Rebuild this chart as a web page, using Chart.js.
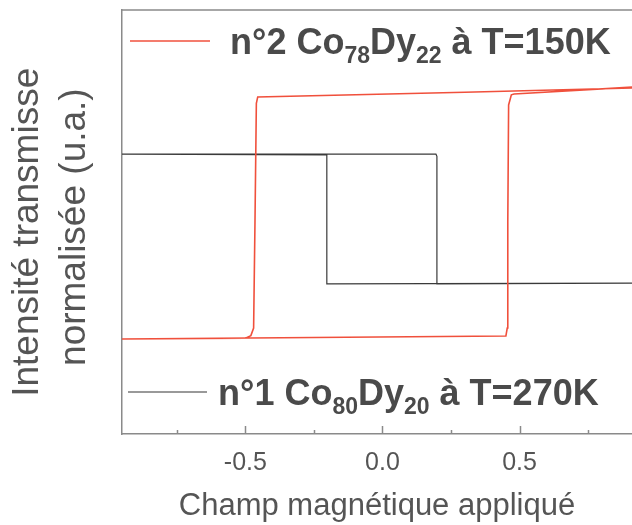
<!DOCTYPE html>
<html>
<head>
<meta charset="utf-8">
<script src="https://cdn.jsdelivr.net/npm/chart.js@4"></script>
<style>
  html, body { margin: 0; padding: 0; background: #fff; }
  #wrap { width: 632px; height: 525px; }
</style>
</head>
<body>
<div id="wrap"><canvas id="hysteresis"></canvas></div>
<script>
'use strict';

// n°2 Co78Dy22 à T=150K (rouge) : branche descendante puis montante
const fieldRed = [0.91, 0.30, -0.455, -0.46, -0.465, -0.47, -0.48, -0.50, -0.95,
                  -0.95, 0.45, 0.455, 0.457, 0.46, 0.47, 0.48, 0.91];
const signalRed = [0.816, 0.806, 0.795, 0.78, 0.50, 0.25, 0.232, 0.226, 0.224,
                   0.224, 0.231, 0.25, 0.50, 0.776, 0.800, 0.802, 0.818];

// n°1 Co80Dy20 à T=270K (noir)
const fieldBlack = [0.91, -0.203, -0.203, -0.95, -0.95, 0.195, 0.1985, 0.1985, 0.91];
const signalBlack = [0.356, 0.354, 0.658, 0.660, 0.660, 0.660, 0.655, 0.354, 0.356];

const xTicks = [-0.75, -0.5, -0.25, 0, 0.25, 0.5, 0.75];
const xLabels = {'-0.5': '-0.5', '0': '0.0', '0.5': '0.5'};

const legendItems = [
    {color: '#f0503c', parts: [['n°2 Co', 0], ['78', 1], ['Dy', 0], ['22', 1], [' à T=150K', 0]],
     lineX: [130, 210], lineY: 41, textX: 230, baseY: 54, size: 36},
    {color: '#777777', parts: [['n°1 Co', 0], ['80', 1], ['Dy', 0], ['20', 1], [' à T=270K', 0]],
     lineX: [128, 207], lineY: 392, textX: 218, baseY: 405, size: 36}
];

function toPoints(xs, ys) {
    return xs.map(function (x, i) { return {x: x, y: ys[i]}; });
}

const framePlugin = {
    id: 'frame',
    afterDraw(chart) {
        const ctx = chart.ctx;
        const area = chart.chartArea;
        const xScale = chart.scales.x;
        ctx.save();
        ctx.strokeStyle = '#8a8a8a';
        ctx.lineWidth = 1.5;
        ctx.beginPath();
        ctx.moveTo(area.left, area.top);
        ctx.lineTo(area.right, area.top);
        ctx.stroke();

        // graduations vers l'intérieur
        xTicks.forEach(function (v) {
            const px = Math.round(xScale.getPixelForValue(v)) + 0.5;
            const len = (xLabels[String(v)] !== undefined) ? 8 : 4;
            ctx.beginPath();
            ctx.moveTo(px, area.bottom);
            ctx.lineTo(px, area.bottom - len);
            ctx.stroke();
        });

        // légende
        legendItems.forEach(function (item) {
            ctx.strokeStyle = item.color;
            ctx.lineWidth = 1.3;
            ctx.beginPath();
            ctx.moveTo(item.lineX[0], item.lineY);
            ctx.lineTo(item.lineX[1], item.lineY);
            ctx.stroke();

            let x = item.textX;
            ctx.fillStyle = '#4a4a4a';
            ctx.textBaseline = 'alphabetic';
            ctx.textAlign = 'left';
            item.parts.forEach(function (p) {
                const sub = p[1] === 1;
                ctx.font = 'bold ' + (sub ? 23 : item.size) + 'px "Liberation Sans", Arial, sans-serif';
                ctx.fillText(p[0], x, item.baseY + (sub ? 9 : 0));
                x += ctx.measureText(p[0]).width;
            });
        });
        ctx.restore();
    }
};

new Chart(document.getElementById('hysteresis'), {
    type: 'scatter',
    data: {
        datasets: [
            {
                label: 'n°2 Co78Dy22 à T=150K',
                data: toPoints(fieldRed, signalRed),
                showLine: true,
                borderColor: '#f0503c',
                borderWidth: 1.6,
                pointRadius: 0,
                tension: 0
            },
            {
                label: 'n°1 Co80Dy20 à T=270K',
                data: toPoints(fieldBlack, signalBlack),
                showLine: true,
                borderColor: '#3a3a3a',
                borderWidth: 1.2,
                pointRadius: 0,
                tension: 0
            }
        ]
    },
    options: {
        responsive: true,
        maintainAspectRatio: false,
        animation: false,
        layout: {padding: {top: 10, right: 0, left: 0, bottom: 0}},
        plugins: {
            legend: {display: false},
            tooltip: {enabled: false}
        },
        scales: {
            x: {
                type: 'linear',
                min: -0.95,
                max: 0.91,
                afterBuildTicks: function (scale) {
                    scale.ticks = xTicks.map(function (v) { return {value: v}; });
                },
                afterFit: function (scale) { scale.height = 91; },
                grid: {display: false, drawTicks: false},
                border: {display: true, color: '#8a8a8a', width: 1.5},
                ticks: {
                    autoSkip: false,
                    maxRotation: 0,
                    padding: 14,
                    color: '#555555',
                    font: {family: '"Liberation Sans", Arial, sans-serif', size: 25},
                    callback: function (value) {
                        const s = xLabels[String(value)];
                        return s === undefined ? '' : s;
                    }
                },
                title: {
                    display: true,
                    text: 'Champ magnétique appliqué',
                    color: '#555555',
                    font: {family: '"Liberation Sans", Arial, sans-serif', size: 31, lineHeight: 1.2},
                    padding: {top: 0, bottom: 0}
                }
            },
            y: {
                min: 0,
                max: 1,
                afterFit: function (scale) { scale.width = 122; },
                grid: {display: false, drawTicks: false},
                border: {display: true, color: '#8a8a8a', width: 1.5},
                ticks: {display: false},
                title: {
                    display: true,
                    // espaces insécables en fin de ligne : décale le texte vers le bas comme l'original
                    text: ['Intensité transmisse\u00a0\u00a0', 'normalisée (u.a.)\u00a0'],
                    color: '#555555',
                    font: {family: '"Liberation Sans", Arial, sans-serif', size: 37, lineHeight: 1.27},
                    padding: {top: 4, bottom: 0}
                }
            }
        }
    },
    plugins: [framePlugin]
});
</script>
</body>
</html>
